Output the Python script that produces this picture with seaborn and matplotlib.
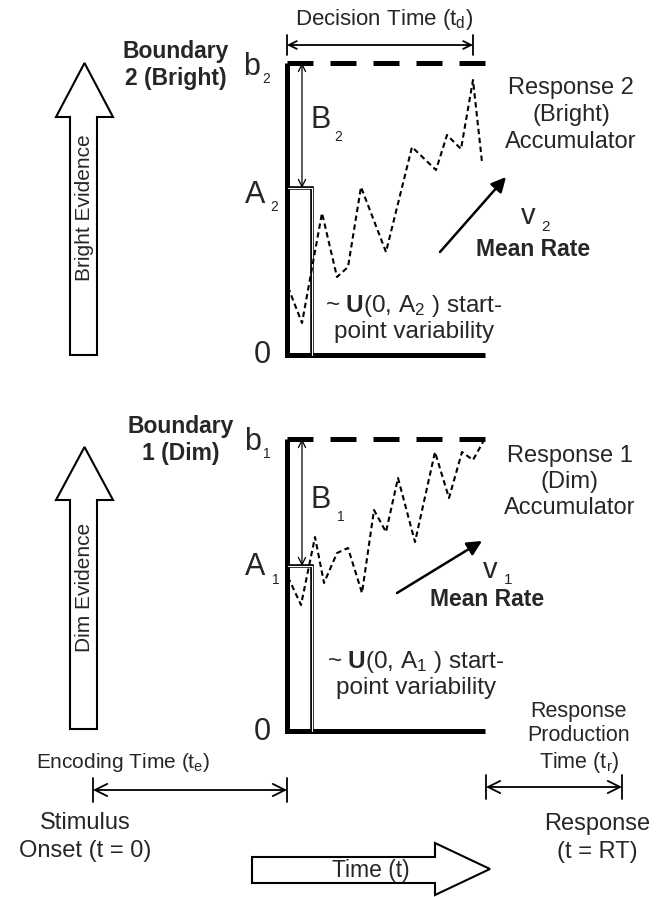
import matplotlib
matplotlib.use("Agg")
import matplotlib.pyplot as plt
import seaborn as sns
import pandas as pd
from matplotlib.patches import Polygon

sns.set_theme(style="white")
plt.rcParams["font.family"] = ["Liberation Sans", "DejaVu Sans"]
plt.rcParams["mathtext.fontset"] = "custom"
plt.rcParams["mathtext.rm"] = "Liberation Sans"
plt.rcParams["mathtext.it"] = "Liberation Sans:italic"
plt.rcParams["mathtext.bf"] = "Liberation Sans:bold"

# ---------------- data (panel units: time / evidence) ----------------
# Response 2 (Bright) accumulator
b2, A2 = 292, 167
walk2_t = [1, 15, 35, 50, 61, 74, 99, 125, 149, 160, 174, 186, 195]
walk2_e = [68, 32, 142, 78, 88, 168, 103, 208, 185, 220, 206, 275, 193]
# Response 1 (Dim) accumulator
b1, A1 = 292, 165
walk1_t = [1, 14, 28, 37, 50, 61, 75, 87, 99, 111, 128, 148, 162, 175, 186, 196]
walk1_e = [154, 126, 194, 148, 178, 183, 138, 221, 199, 253, 189, 279, 233, 279, 271, 289]
# time components
decision_time = 186
encoding_time = 194
production_time = 136

W, H = 665, 897
fig = plt.figure(figsize=(W / 100, H / 100), dpi=100)

ov = fig.add_axes([0, 0, 1, 1])
ov.set_xlim(0, W)
ov.set_ylim(H, 0)
ov.axis("off")

X0 = 287           # decision onset (pixel column)
PANEL_W = 198      # drawn length of the boundaries
RECT_W = 25        # width of the start-point box


def panel_axes(zero_y):
    ax = fig.add_axes([0, 0, 1, 1])
    ax.set_xlim(-X0, W - X0)
    ax.set_ylim(zero_y - H, zero_y)
    ax.patch.set_alpha(0)
    ax.axis("off")
    return ax


def draw_panel(ax, b, A, wt, we):
    # threshold (dashed)
    ax.plot([0, PANEL_W], [b, b], color="black", lw=3.6,
            ls=(0, (5.2, 3.4)), solid_capstyle="butt", dash_capstyle="butt")
    # evidence axis and zero line
    ax.plot([0, 0, PANEL_W], [b, 0, 0], color="black", lw=3.6,
            solid_joinstyle="miter", solid_capstyle="butt")
    # start point box (double line)
    ax.plot([1, RECT_W, RECT_W], [A, A, 0], color="black", lw=2.6,
            solid_joinstyle="miter")
    ax.plot([1, RECT_W, RECT_W], [A, A, 0], color="white", lw=0.8,
            solid_joinstyle="miter")
    # B arrow
    ax.annotate("", xy=(15, A), xytext=(15, b),
                arrowprops=dict(arrowstyle="<->", lw=0.9, color="black",
                                mutation_scale=13, shrinkA=0, shrinkB=0))
    # random walk
    df = pd.DataFrame({"t": wt, "e": we})
    sns.lineplot(data=df, x="t", y="e", sort=False, estimator=None, ax=ax,
                 color="black", lw=1.5, ls=(0, (2.6, 1.7)))


ax_top = panel_axes(355)
draw_panel(ax_top, b2, A2, walk2_t, walk2_e)
ax_bot = panel_axes(731)
draw_panel(ax_bot, b1, A1, walk1_t, walk1_e)


def big_arrow_up(x0, x1, hx0, hx1, tip_y, base_y, bottom_y):
    xm = (hx0 + hx1) / 2
    pts = [(x0, bottom_y), (x0, base_y), (hx0, base_y), (xm, tip_y),
           (hx1, base_y), (x1, base_y), (x1, bottom_y)]
    ov.add_patch(Polygon(pts, closed=True, fc="white", ec="black", lw=1.5))


big_arrow_up(70, 97, 56, 113, 63, 117, 355)
big_arrow_up(70, 97, 56, 113, 447, 500, 729)
ov.text(84, 208, "Bright Evidence", rotation=90, ha="center", va="center", fontsize=15)
ov.text(84, 587, "Dim Evidence", rotation=90, ha="center", va="center", fontsize=15)


def sub_label(x, y, main, sub, size=22, subsize=10, dx=14, dy=12):
    ov.text(x, y, main, ha="center", va="center", fontsize=size)
    ov.text(x + dx, y + dy, sub, ha="center", va="center", fontsize=subsize)


# --- top panel labels
ov.text(176, 65, "Boundary\n2 (Bright)", ha="center", va="center",
        fontsize=16.5, fontweight="bold", linespacing=1.2)
sub_label(252, 67, "b", "2")
sub_label(321, 120, "B", "2", dx=17, dy=17)
sub_label(255, 195, "A", "2", dx=19, dy=12)
ov.text(262, 355, "0", ha="center", va="center", fontsize=22)
ov.text(571, 115, "Response 2\n(Bright)\nAccumulator", ha="center", va="center",
        fontsize=17, linespacing=1.3)
sub_label(528, 216, "v", "2", size=21, subsize=11, dx=18, dy=11)
ov.text(533, 249, "Mean Rate", ha="center", va="center", fontsize=16.5, fontweight="bold")
ov.annotate("", xy=(506, 177), xytext=(440, 252),
            arrowprops=dict(arrowstyle="-|>", lw=1.8, color="black",
                            mutation_scale=22, shrinkA=0, shrinkB=0))
ov.text(414, 318, r"~ $\mathbf{U}$(0, A$_2$ ) start-" + "\npoint variability",
        ha="center", va="center", fontsize=17.5, linespacing=1.12)

# --- bottom panel labels
ov.text(181, 440, "Boundary\n1 (Dim)", ha="center", va="center",
        fontsize=16.5, fontweight="bold", linespacing=1.2)
sub_label(253, 442, "b", "1")
sub_label(321, 500, "B", "1", dx=20, dy=17)
sub_label(255, 567, "A", "1", dx=21, dy=13)
ov.text(262, 732, "0", ha="center", va="center", fontsize=22)
ov.text(570, 482, "Response 1\n(Dim)\nAccumulator", ha="center", va="center",
        fontsize=17, linespacing=1.25)
sub_label(490, 570, "v", "1", size=21, subsize=11, dx=18, dy=10)
ov.text(487, 600, "Mean Rate", ha="center", va="center", fontsize=16.5, fontweight="bold")
ov.annotate("", xy=(482, 541), xytext=(397, 593),
            arrowprops=dict(arrowstyle="-|>", lw=1.8, color="black",
                            mutation_scale=22, shrinkA=0, shrinkB=0))
ov.text(416, 674, r"~ $\mathbf{U}$(0, A$_1$ ) start-" + "\npoint variability",
        ha="center", va="center", fontsize=17.5, linespacing=1.12)


# --- time intervals
def interval(x_start, length, y, tick_half, scale):
    x_end = x_start + length
    ov.annotate("", xy=(x_end, y), xytext=(x_start, y),
                arrowprops=dict(arrowstyle="<->", lw=1.3, color="black",
                                mutation_scale=scale, shrinkA=0, shrinkB=0))
    for xx in (x_start, x_end):
        ov.plot([xx, xx], [y - tick_half, y + tick_half], color="black", lw=1.3)


interval(X0, decision_time, 45, 10, 14)
ov.text(384, 20, r"Decision Time (t$_{\mathrm{d}}$)", ha="center", va="center", fontsize=16)

interval(X0 - encoding_time, encoding_time, 790, 12, 22)
ov.text(123, 763, r"Encoding Time (t$_{\mathrm{e}}$)", ha="center", va="center", fontsize=15)
ov.text(85, 837, "Stimulus\nOnset (t = 0)", ha="center", va="center", fontsize=17,
        linespacing=1.3)

interval(486, production_time, 787, 12, 22)
ov.text(579, 738, "Response\nProduction\n" + r"Time (t$_{\mathrm{r}}$)", ha="center",
        va="center", fontsize=15.5, linespacing=1.2)
ov.text(597, 838, "Response\n(t = RT)", ha="center", va="center", fontsize=17,
        linespacing=1.3)

# time arrow
ov.add_patch(Polygon([(252, 857), (435, 857), (435, 843), (490, 869), (435, 895),
                      (435, 883), (252, 883)], closed=True, fc="white", ec="black", lw=1.5))
ov.text(371, 871, "Time (t)", ha="center", va="center", fontsize=16.5)

fig.savefig("out.png", dpi=100)
